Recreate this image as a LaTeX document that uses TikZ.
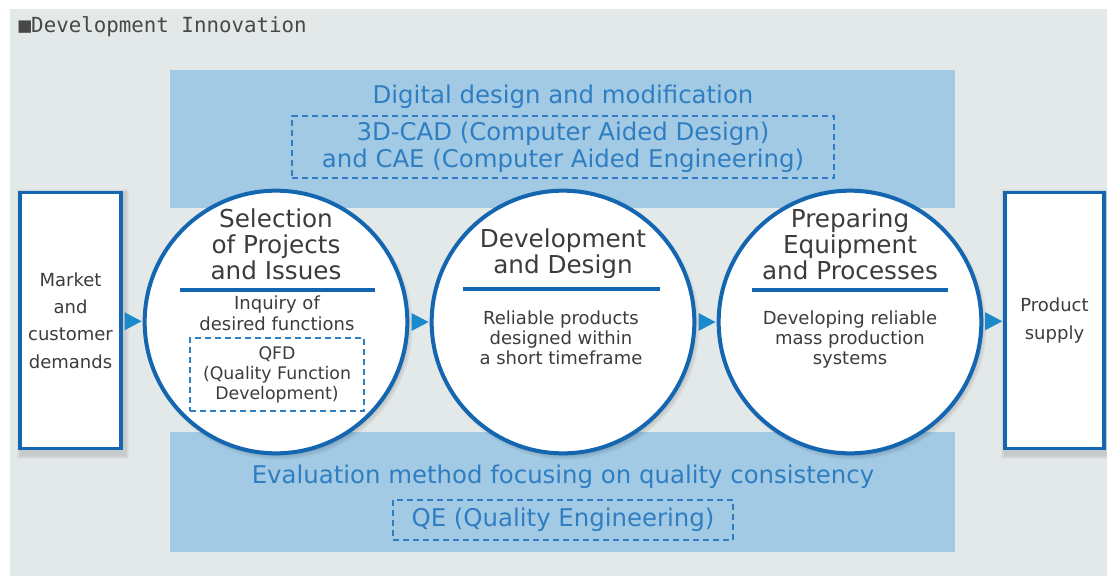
\documentclass[tikz,border=0pt]{standalone}
\usepackage{fontspec}
\setmainfont{DejaVu Sans}
\newfontfamily\monofont{DejaVu Sans Mono}
\usetikzlibrary{calc}

\definecolor{bggray}{HTML}{E3E8E9}
\definecolor{bandblue}{HTML}{A2CAE4}
\definecolor{lineblue}{HTML}{1466B0}
\definecolor{textblue}{HTML}{2F7EC2}
\definecolor{arrowblue}{HTML}{1A8ACB}
\definecolor{txtgray}{HTML}{3C3C3C}
\definecolor{titlegray}{HTML}{484848}

\begin{document}
\begin{tikzpicture}[x=0.75pt, y=-0.75pt,
  band/.style={fill=bandblue},
  bandtext/.style={text=textblue, align=center, font=\fontsize{18.3}{20.3}\selectfont},
  dashbox/.style={draw=textblue, line width=1.5pt, dash pattern=on 4.5pt off 3pt, inner sep=0pt},
  stage/.style={circle, draw=lineblue, line width=3pt, fill=white, minimum size=197pt, inner sep=0pt},
  endbox/.style={draw=lineblue, line width=2.6pt, fill=white, minimum height=192pt, inner sep=0pt},
  head/.style={text=txtgray, align=center, font=\fontsize{18.5}{19.5}\selectfont},
  note/.style={text=txtgray, align=center, font=\fontsize{13.5}{15}\selectfont},
  rule/.style={draw=lineblue, line width=2.3pt},
  tip/.style={fill=arrowblue}]
\useasboundingbox (0,0) rectangle (1107,576);

% Fondo
\fill[bggray] (10,9) rectangle (1107,576);
\node[anchor=west, text=titlegray, font=\monofont\fontsize{15.6}{18}\selectfont] (title) at (14,27) {■Development Innovation};

% Bandas
\fill[band] (170,70) rectangle (955,208);
\fill[band] (170,432) rectangle (955,552);
\node[bandtext] (digital) at (563,97) {Digital design and modification};
\node[bandtext, dashbox, minimum width=406.5pt, minimum height=46.5pt] (cad) at (563,147)
  {3D-CAD (Computer Aided Design)\\and CAE (Computer Aided Engineering)};
\node[bandtext] (eval) at (563,477) {Evaluation method focusing on quality consistency};
\node[bandtext, dashbox, minimum width=255pt, minimum height=30pt] (qe) at (563,520) {QE (Quality Engineering)};

% Sombras
\coordinate (selC) at (276,322);
\coordinate (devC) at (563,322);
\coordinate (prepC) at (850,322);
\foreach \c in {selC,devC,prepC}
  \foreach \k in {1,...,10}
    \fill[black, opacity=0.028] ([shift={(3,4)}]\c) circle (124+\k);
\foreach \x in {70.5,1054.5}
  \foreach \k in {1,...,4}
    \fill[black, opacity=0.03] (\x-52-\k+2,190-\k+3) rectangle (\x+52+\k+2,452+\k+3);

% Etapas
\node[stage] (sel) at (selC) {};
\node[stage] (dev) at (devC) {};
\node[stage] (prep) at (prepC) {};
\node[endbox, minimum width=75.5pt] (mkt) at (70.5,320.5) {};
\node[endbox, minimum width=74.5pt] (sup) at (1054.5,320.5) {};

% Textos
\node[note, font=\fontsize{13.5}{20.5}\selectfont] (mktText) at (mkt) {Market\\and\\customer\\demands};
\node[note, font=\fontsize{13.5}{20.5}\selectfont] (supText) at (sup) {Product\\supply};

\node[head] (selHead) at (276,244) {Selection\\of Projects\\and Issues};
\draw[rule] (180,290) -- (375,290);
\node[note, font=\fontsize{13.5}{15.75}\selectfont] (selNote) at (277,313) {Inquiry of\\desired functions};
\node[note, dashbox, font=\fontsize{13}{15}\selectfont, minimum width=130.5pt, minimum height=55pt] (qfd) at (277,374.5)
  {QFD\\(Quality Function\\Development)};

\node[head] (devHead) at (563,254) {Development\\and Design};
\draw[rule] (463,289) -- (660,289);
\node[note] (devNote) at (561,338) {Reliable products\\designed within\\a short timeframe};

\node[head] (prepHead) at (850,244) {Preparing\\Equipment\\and Processes};
\draw[rule] (752,290) -- (948,290);
\node[note] (prepNote) at (850,340) {Developing reliable\\mass production\\systems};

% Flechas
\foreach \s/\t [count=\i] in {mkt/sel, sel/dev, dev/prep, prep/sup} {
  \path (\s.east) -- (\t.west) coordinate[midway] (a\i);
  \fill[tip] (a\i) ++(-8,-9) -- ++(17,9) -- ++(-17,9) -- cycle;
}
\end{tikzpicture}
\end{document}
